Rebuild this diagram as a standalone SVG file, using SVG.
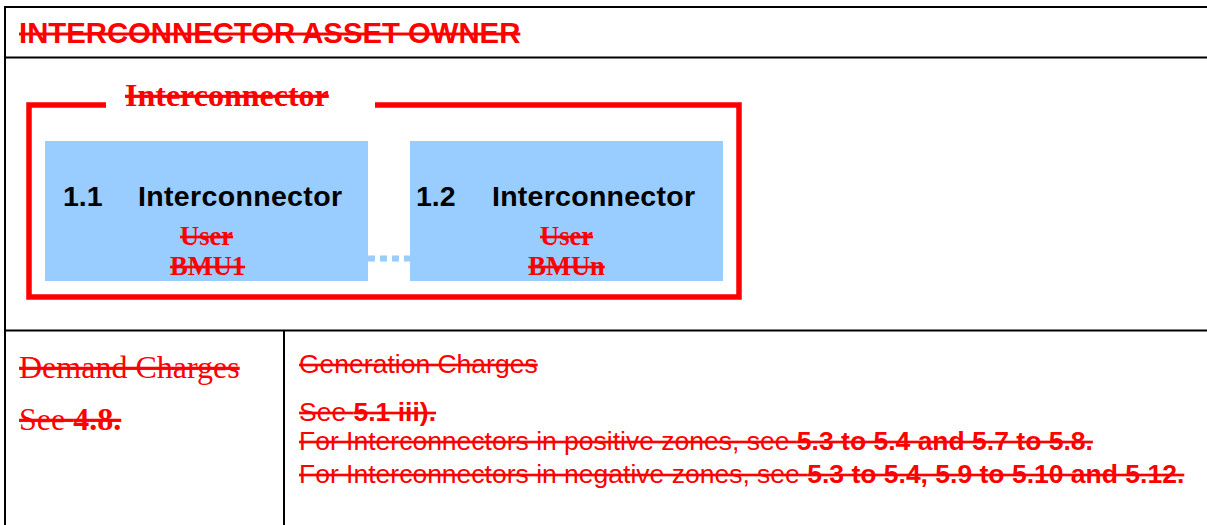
<svg xmlns="http://www.w3.org/2000/svg" width="1207" height="525" viewBox="0 0 1207 525">
<style>
.rule{stroke:#000;stroke-width:2;fill:none}
.red{fill:#FF0000;text-decoration:line-through}
.sans{font-family:"Liberation Sans",Arial,sans-serif}
.serif{font-family:"Liberation Serif","Times New Roman",serif}
.b{font-weight:bold}
.box{fill:#99CCFF}
.lbl{font-family:"Liberation Sans",Arial,sans-serif;font-weight:bold;font-size:28.5px;fill:#000}
</style>
<rect width="1207" height="525" fill="#fff"/>
<g id="table">
<line class="rule" x1="4" y1="7" x2="1207" y2="7"/>
<line class="rule" x1="5" y1="6" x2="5" y2="525"/>
<line class="rule" x1="4" y1="57.5" x2="1207" y2="57.5"/>
<line class="rule" x1="4" y1="330.5" x2="1207" y2="330.5"/>
<line class="rule" x1="284" y1="330" x2="284" y2="525"/>
</g>
<g id="header">
<text class="red sans b" x="19" y="43" font-size="29.3">INTERCONNECTOR ASSET OWNER</text>
</g>
<g id="interconnector-frame">
<path d="M106,105 H29 V297 H739 V105 H375" fill="none" stroke="#FF0000" stroke-width="5.5"/>
<text class="red serif b" x="125" y="106" font-size="32">Interconnector</text>
</g>
<g id="connectors">
<line x1="368" y1="258.5" x2="410" y2="258.5" stroke="#99CCFF" stroke-width="6" stroke-dasharray="7 5"/>
</g>
<g id="bmu1">
<rect class="box" x="45" y="141" width="323" height="140"/>
<text class="lbl" x="63" y="206">1.1</text>
<text class="lbl" x="138" y="206" textLength="204">Interconnector</text>
<text class="red serif b" x="206.5" y="245" font-size="26.5" text-anchor="middle">User</text>
<text class="red serif b" x="207.5" y="275" font-size="26.5" text-anchor="middle">BMU1</text>
</g>
<g id="bmun">
<rect class="box" x="410" y="141" width="313" height="140"/>
<text class="lbl" x="416" y="206">1.2</text>
<text class="lbl" x="492" y="206" textLength="203">Interconnector</text>
<text class="red serif b" x="566.5" y="245" font-size="26.5" text-anchor="middle">User</text>
<text class="red serif b" x="566.5" y="275" font-size="26.5" text-anchor="middle">BMUn</text>
</g>
<g id="demand-charges">
<text class="red serif" x="19" y="378" font-size="32">Demand Charges</text>
<text class="red serif" x="19" y="430" font-size="32">See <tspan class="b">4.8.</tspan></text>
</g>
<g id="generation-charges">
<text class="red sans" x="299" y="373" font-size="26.5">Generation Charges</text>
<text class="red sans" x="299" y="421" font-size="26.5">See <tspan class="b">5.1 iii).</tspan></text>
<text class="red sans" x="299" y="450" font-size="26.5">For Interconnectors in positive zones, see <tspan class="b">5.3 to 5.4 and 5.7 to 5.8.</tspan></text>
<text class="red sans" x="299" y="483" font-size="26.5">For Interconnectors in negative zones, see <tspan class="b">5.3 to 5.4, 5.9 to 5.10 and 5.12.</tspan></text>
</g>
</svg>
